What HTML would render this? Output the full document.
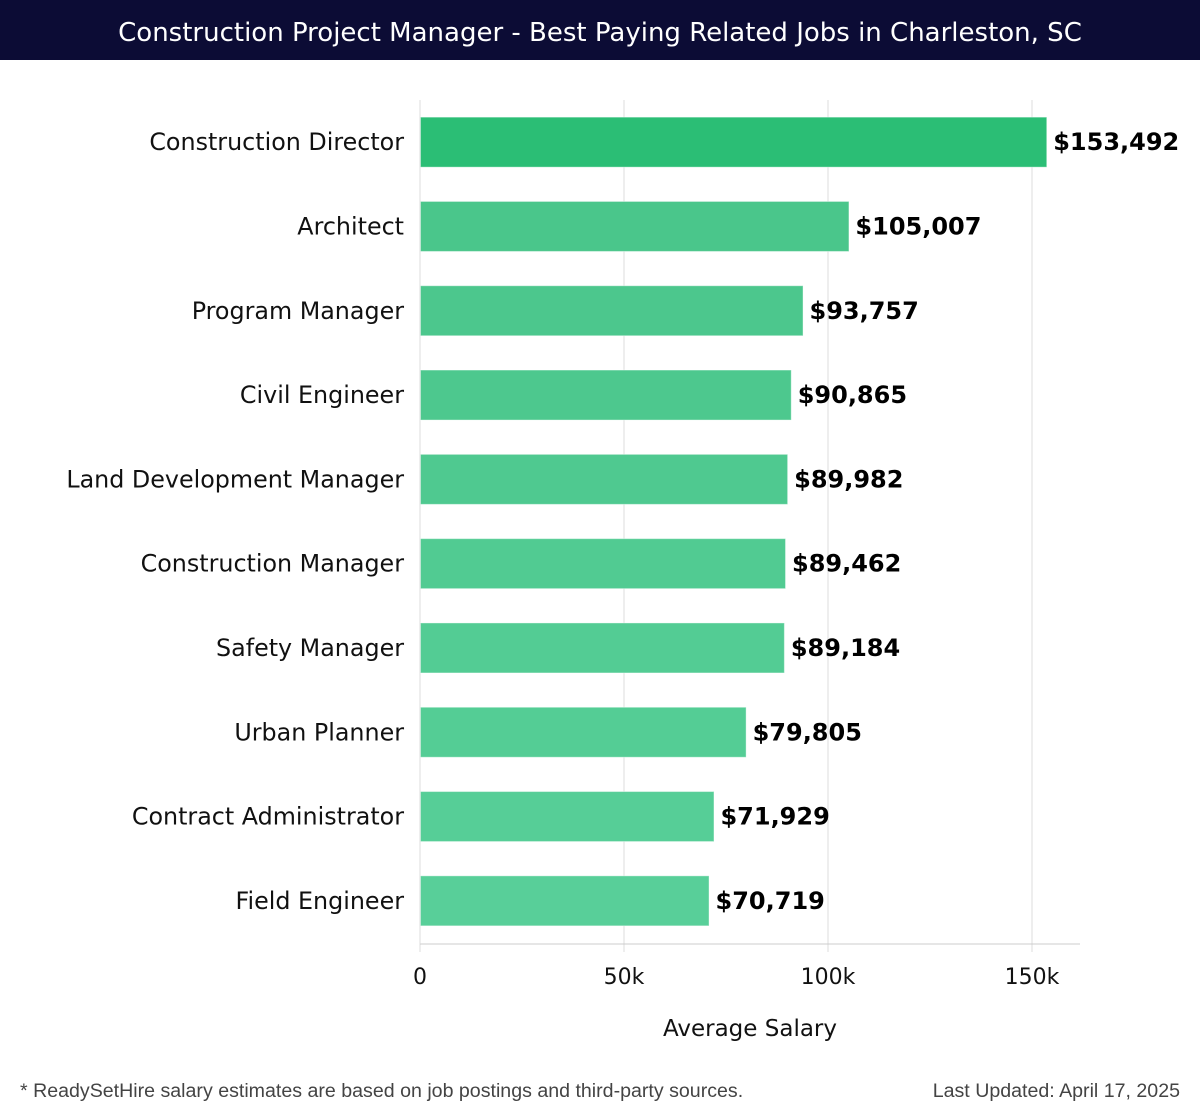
<!DOCTYPE html>
<html><head><meta charset="utf-8"><style>
body{margin:0;width:1200px;height:1120px;background:#fff;font-family:"DejaVu Sans","Liberation Sans",sans-serif;overflow:hidden}
#hdr{position:absolute;left:0;top:0;width:1200px;height:60px;background:#0c0c35;color:#fff;font-size:26px;line-height:66px;text-align:center;font-family:"DejaVu Sans","Liberation Sans",sans-serif;letter-spacing:0px}
.ft{position:absolute;top:1080px;font-size:19.6px;color:#444;font-family:"Liberation Sans",sans-serif}
</style></head><body>
<div id="hdr">Construction Project Manager - Best Paying Related Jobs in Charleston, SC</div>
<svg id="chart" width="1200" height="1120" style="position:absolute;left:0;top:0"></svg>
<div class="ft" style="left:20px">* ReadySetHire salary estimates are based on job postings and third-party sources.</div>
<div class="ft" style="right:20px">Last Updated: April 17, 2025</div>
<script>
const categories=["Construction Director","Architect","Program Manager","Civil Engineer","Land Development Manager","Construction Manager","Safety Manager","Urban Planner","Contract Administrator","Field Engineer"];
const values=[153492,105007,93757,90865,89982,89462,89184,79805,71929,70719];
const tickValues=[0,50000,100000,150000];
const tickLabels=["0","50k","100k","150k"];
const svg=document.getElementById('chart');const NS='http://www.w3.org/2000/svg';
const x0=420,pxPer=204/50000,top0=100,band=84.3;
const xs=v=>x0+v*pxPer;const yc=i=>top0+band*(i+0.5);
function mk(t,a){const e=document.createElementNS(NS,t);for(const k in a)e.setAttribute(k,a[k]);svg.appendChild(e);return e;}
tickValues.forEach((v,i)=>{
 const g=mk('line',{x1:xs(v),x2:xs(v),y1:top0,y2:952,stroke:'#dddddd','stroke-width':1});
 
 
 const t=mk('text',{x:xs(v),y:984,'text-anchor':'middle','font-size':22,fill:'#111'});
 t.textContent=tickLabels[i];
 
 
});
const ax=mk('line',{x1:x0,x2:1080,y1:944,y2:944,stroke:'#cccccc','stroke-width':1});


const yl=mk('line',{x1:x0,x2:x0,y1:top0,y2:944,stroke:'#dddddd','stroke-width':1});


const bh=50;
categories.forEach((c,i)=>{
 const f=i/(categories.length-1);
 const col=i===0?'#2bbe75':`rgb(${Math.round(72+16*f)},${Math.round(197+10*f)},${Math.round(137+16*f)})`;
 const r=mk('rect',{x:x0+0.5,y:yc(i)-bh/2,width:xs(values[i])-x0,height:bh,fill:col,stroke:'rgba(255,255,255,0.4)','stroke-width':1});
 
 
 const l=mk('text',{x:404,y:yc(i)+8,'text-anchor':'end','font-size':23.8,fill:'#111'});
 l.textContent=c;
 
 
 const v=mk('text',{x:xs(values[i])+7,y:yc(i)+8,'font-size':24,'font-weight':'bold',fill:'#000'});
 v.textContent='$'+values[i].toLocaleString('en-US');
 
 
});
const at=mk('text',{x:750,y:1036,'text-anchor':'middle','font-size':23,fill:'#111'});
at.textContent='Average Salary';


</script>
</body></html>
